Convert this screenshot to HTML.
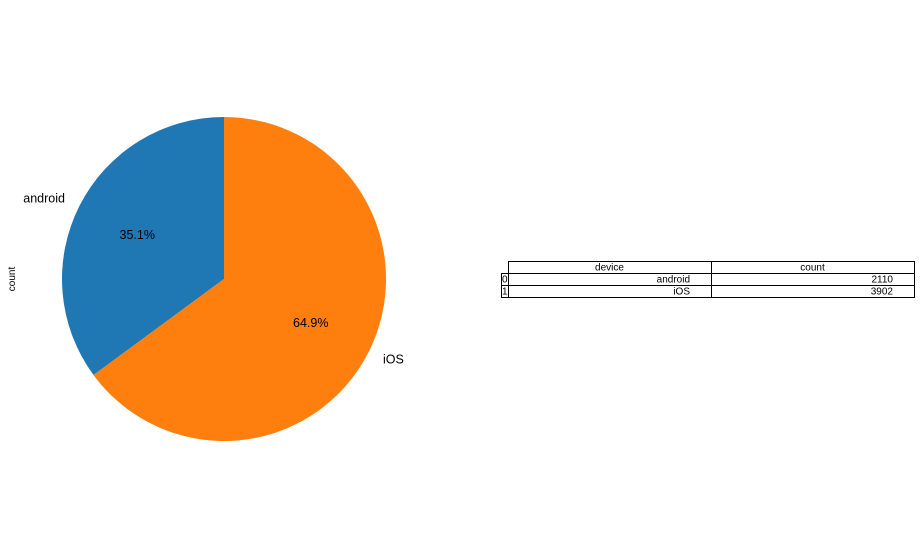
<!DOCTYPE html>
<html><head><meta charset="utf-8"><style>
body{margin:0;background:#fff;}
svg{display:block;font-family:"Liberation Sans","DejaVu Sans",sans-serif;}
</style></head><body>
<svg width="921" height="558">
<g id="pie"></g>
<text x="15" y="279" font-size="10" transform="rotate(-90 15 279)" text-anchor="middle">count</text>
<g id="tbl"></g>
</svg>
<script>
const categories=["android","iOS"];
const values=[2110,3902];
const colors=["#1f77b4","#ff7f0e"];
const NS="http://www.w3.org/2000/svg";
const cx=224,cy=279,r=162;
const total=values.reduce((a,b)=>a+b,0);
const pie=document.getElementById('pie');
let a0=90;
function pt(deg,rad){const t=deg*Math.PI/180;return [cx+rad*Math.cos(t),cy-rad*Math.sin(t)];}
values.forEach((v,i)=>{
  const sweep=v/total*360,a1=a0+sweep;
  const [x0,y0]=pt(a0,r),[x1,y1]=pt(a1,r);
  const p=document.createElementNS(NS,'path');
  p.setAttribute('d',`M${cx},${cy} L${x0},${y0} A${r},${r} 0 ${sweep>180?1:0} 0 ${x1},${y1} Z`);
  p.setAttribute('fill',colors[i]);
  
  
  pie.appendChild(p);
  const mid=a0+sweep/2;
  const [lx,ly]=pt(mid,r*1.1);
  const t=document.createElementNS(NS,'text');
  t.setAttribute('x',lx);t.setAttribute('y',ly+4);t.setAttribute('font-size','12.5');
  t.setAttribute('text-anchor',Math.cos(mid*Math.PI/180)<0?'end':'start');
  t.textContent=categories[i];
  
  
  pie.appendChild(t);
  const [px,py]=pt(mid,r*0.6);
  const q=document.createElementNS(NS,'text');
  q.setAttribute('x',px);q.setAttribute('y',py+4);q.setAttribute('font-size','12.5');
  q.setAttribute('text-anchor','middle');
  q.textContent=(v/total*100).toFixed(1)+'%';
  
  
  pie.appendChild(q);
  a0=a1;
});
const tbl=document.getElementById('tbl');
const cols=[[501,508],[508,711],[711,914]];
const rowsY=[261,273,285,297];
function rect(x,y,w,h,name){const e=document.createElementNS(NS,'rect');e.setAttribute('x',x);e.setAttribute('y',y);e.setAttribute('width',w);e.setAttribute('height',h);e.setAttribute('fill','none');e.setAttribute('stroke','#000');e.setAttribute('stroke-width','1');


tbl.appendChild(e);}
function txt(x,y,s,anchor,name){const e=document.createElementNS(NS,'text');e.setAttribute('x',x);e.setAttribute('y',y);e.setAttribute('font-size','10');e.setAttribute('text-anchor',anchor);e.textContent=s;


tbl.appendChild(e);}
rect(508.5,261.5,203,12,'header-device');rect(711.5,261.5,203,12,'header-count');
txt(609.5,270.5,'device','middle','header-device-text');txt(812.5,270.5,'count','middle','header-count-text');
categories.forEach((c,i)=>{
  const y=273.5+i*12;
  rect(501.5,y,7,12,'index-cell');rect(508.5,y,203,12,'device-cell');rect(711.5,y,203,12,'count-cell');
  txt(502,y+9,String(i),'start','index-text');
  txt(690,y+9,c,'end','device-text');
  txt(893,y+9,String(values[i]),'end','count-text');
});
</script>
</body></html>
